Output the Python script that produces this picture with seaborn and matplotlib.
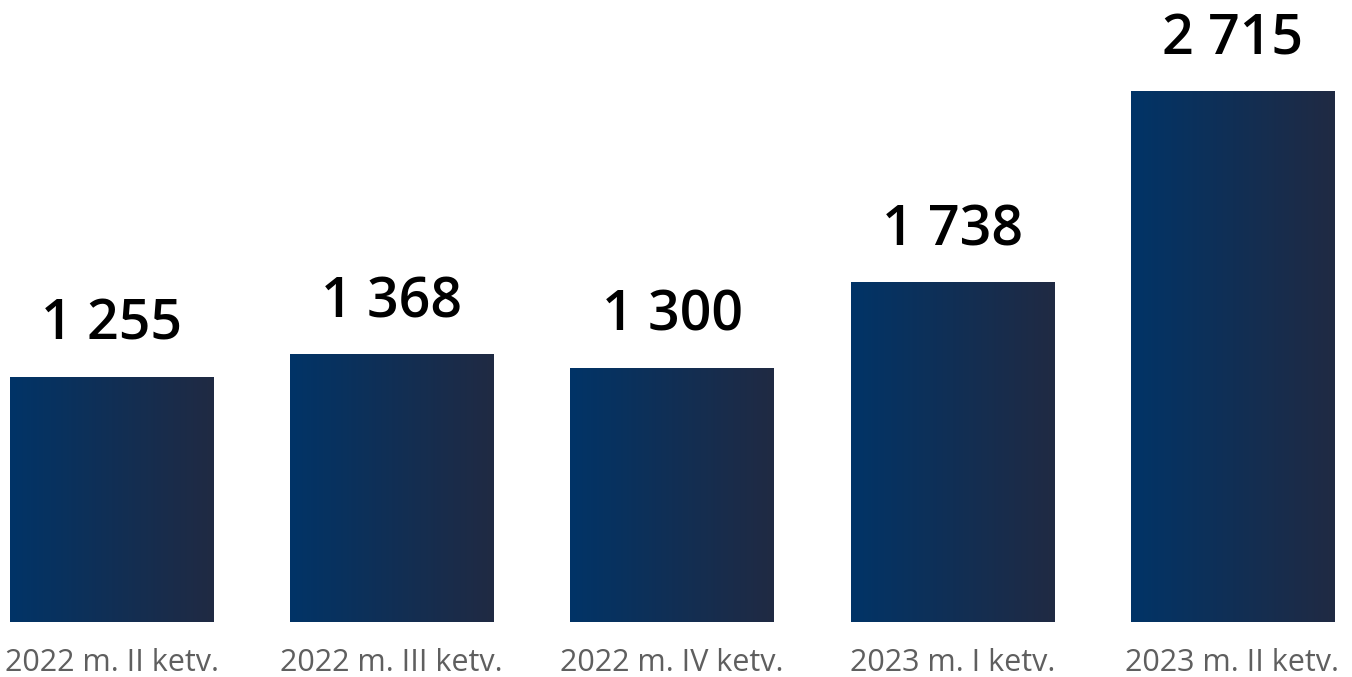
import numpy as np
import matplotlib
matplotlib.use('Agg')
import matplotlib.pyplot as plt
import seaborn as sns
import pandas as pd
from matplotlib.colors import LinearSegmentedColormap

# Duomenys
ketvirciai = ['2022 m. II ketv.', '2022 m. III ketv.', '2022 m. IV ketv.',
              '2023 m. I ketv.', '2023 m. II ketv.']
reiksmes = [1255, 1368, 1300, 1738, 2715]
etiketes = ['1 255', '1 368', '1 300', '1 738', '2 715']

df = pd.DataFrame({'ketv': ketvirciai, 'val': reiksmes})

sns.set_style('white')
plt.rcParams['font.family'] = ['Open Sans', 'DejaVu Sans']

fig = plt.figure(figsize=(13.52, 6.77), dpi=100)
ax = fig.add_axes([10 / 1352, 55 / 677, 1324 / 1352, 622 / 677])

sns.barplot(x='ketv', y='val', data=df, color='#0a3160', width=0.725, ax=ax)

# gradientas ant stulpeliu
cmap = LinearSegmentedColormap.from_list('grad', ['#013467', '#202a43'])
grad = np.linspace(0, 1, 256).reshape(1, -1)
for p in ax.patches:
    x0, y0 = p.get_x(), p.get_y()
    w, h = p.get_width(), p.get_height()
    im = ax.imshow(grad, cmap=cmap, aspect='auto', extent=[x0, x0 + w, y0, y0 + h],
                   zorder=p.get_zorder() + 0.1)
    im.set_clip_path(p)

for i, (v, t) in enumerate(zip(reiksmes, etiketes)):
    ax.annotate(t, (i, v), xytext=(0, 16.5), textcoords='offset points',
                ha='center', va='bottom', fontsize=40, fontweight='semibold', color='black')

ax.set_xlim(-0.3625, 4.3625)
ax.set_ylim(0, 3180)
ax.set_xlabel('')
ax.set_ylabel('')
ax.set_yticks([])
ax.tick_params(axis='x', length=0, pad=19, labelsize=22, labelcolor='#5f5f5f')
sns.despine(ax=ax, left=True, bottom=True)

fig.savefig('out.png', dpi=100)
